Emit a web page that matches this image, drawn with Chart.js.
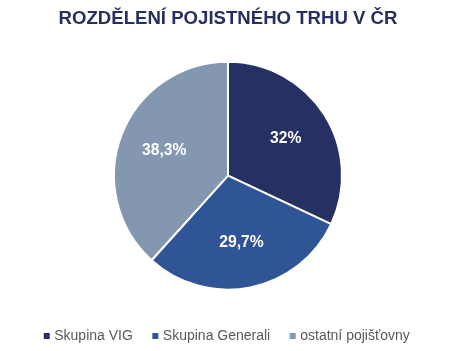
<!DOCTYPE html>
<html>
<head>
<meta charset="utf-8">
<script src="https://cdn.jsdelivr.net/npm/chart.js@4"></script>
<style>
  html, body { margin: 0; padding: 0; background: #fff; }
  #wrap { width: 469px; height: 351px; }
</style>
</head>
<body>
<div id="wrap"><canvas id="chart" width="469" height="351"></canvas></div>
<script>
const title = "ROZDĚLENÍ POJISTNÉHO TRHU V ČR";
const labels = ["Skupina VIG", "Skupina Generali", "ostatní pojišťovny"];
const shares = [32, 29.7, 38.3];
const colors = ["#263062", "#2f5597", "#8497b0"];

const FONT = "'Liberation Sans', Arial, sans-serif";

// format like 29,7% (czech decimal comma)
function formatPct(v) {
    return String(v).replace(".", ",") + "%";
}

// simple data labels, drawn inside each slice
const sliceLabels = {
    id: "sliceLabels",
    afterDatasetsDraw(chart) {
        const ctx = chart.ctx;
        const meta = chart.getDatasetMeta(0);
        ctx.save();
        ctx.fillStyle = "#ffffff";
        ctx.font = "bold 15.7px " + FONT;
        ctx.textAlign = "center";
        ctx.textBaseline = "middle";
        meta.data.forEach((arc, i) => {
            const p = arc.getProps(["x", "y", "startAngle", "endAngle", "outerRadius"], true);
            const mid = (p.startAngle + p.endAngle) / 2;
            const r = p.outerRadius * 0.6;
            ctx.fillText(formatPct(shares[i]), p.x + Math.cos(mid) * r, p.y + Math.sin(mid) * r);
        });
        ctx.restore();
    }
};

new Chart(document.getElementById("chart"), {
    type: "pie",
    data: {
        labels: labels,
        datasets: [{
            data: shares,
            backgroundColor: colors,
            borderColor: "#ffffff",
            borderWidth: 2,
            radius: 114
        }]
    },
    options: {
        responsive: false,
        animation: false,
        layout: { padding: { left: 0, right: 13, top: 0, bottom: -2 } },
        plugins: {
            title: {
                display: true,
                text: title,
                color: "#262f5f",
                font: { family: FONT, size: 18.6, weight: "bold" },
                padding: { top: 8, bottom: 14 }
            },
            legend: {
                position: "bottom",
                labels: {
                    color: "#595959",
                    font: { family: FONT, size: 14 },
                    usePointStyle: true,
                    pointStyle: "rect",
                    boxWidth: 1,
                    boxHeight: 6,
                    padding: 22,
                    generateLabels(chart) {
                        const items = Chart.overrides.pie.plugins.legend.labels.generateLabels(chart);
                        return items.map(it => Object.assign(it, { lineWidth: 0 }));
                    }
                }
            },
            tooltip: { enabled: false }
        }
    },
    plugins: [sliceLabels]
});
</script>
</body>
</html>
